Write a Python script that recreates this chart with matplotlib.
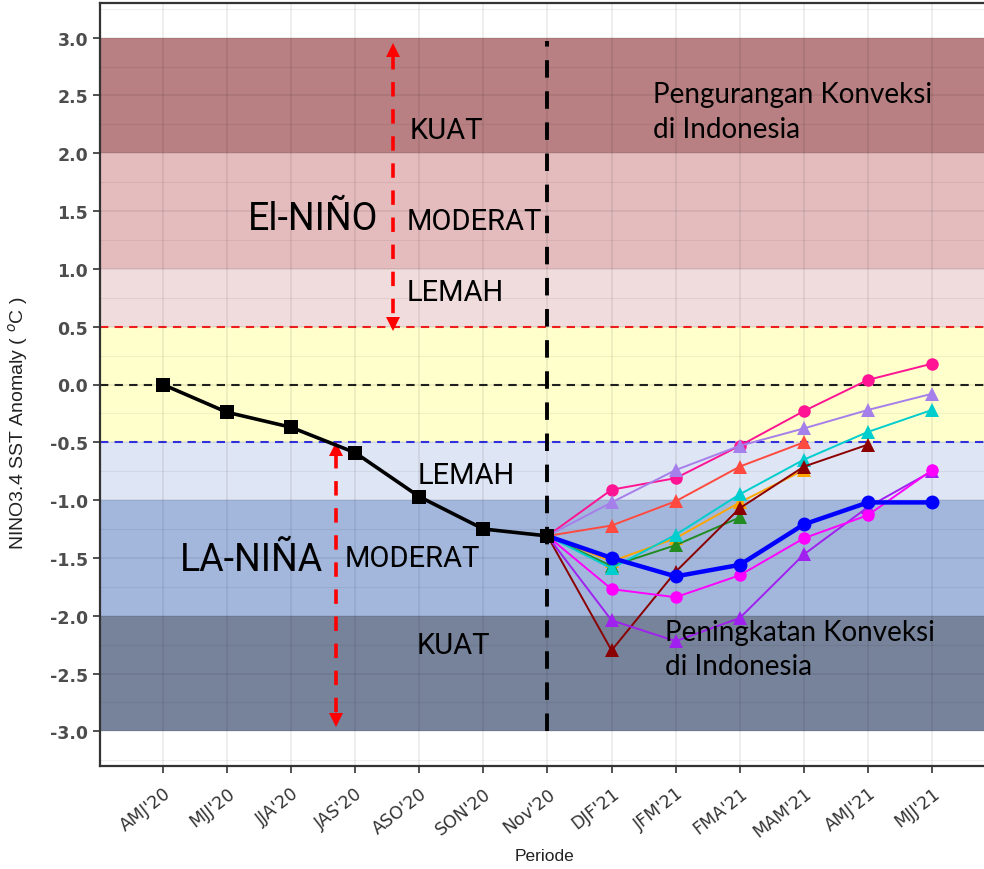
import numpy as np
import matplotlib
matplotlib.use("Agg")
import matplotlib.pyplot as plt
from matplotlib.ticker import MultipleLocator

# ---------------- data ----------------
periods = ["AMJ'20", "MJJ'20", "JJA'20", "JAS'20", "ASO'20", "SON'20", "Nov'20",
           "DJF'21", "JFM'21", "FMA'21", "MAM'21", "AMJ'21", "MJJ'21"]
observed = [0.0, -0.24, -0.37, -0.59, -0.97, -1.25, -1.31]

nan = np.nan
# forecasts for DJF'21 .. MJJ'21 (each starts from the Nov'20 observation)
fc_deeppink = [-0.91, -0.81, -0.53, -0.23, 0.04, 0.18]
fc_mpurple = [-1.02, -0.74, -0.53, -0.38, -0.22, -0.08]
fc_tomato = [-1.22, -1.01, -0.71, -0.50, nan, nan]
fc_cyan = [-1.59, -1.30, -0.95, -0.65, -0.41, -0.22]
fc_orange = [-1.53, -1.33, -1.02, -0.74, nan, nan]
fc_darkred = [-2.30, -1.62, -1.07, -0.71, -0.52, nan]
fc_green = [-1.57, -1.39, -1.15, nan, nan, nan]
fc_magenta = [-1.77, -1.84, -1.65, -1.33, -1.13, -0.74]
fc_violet = [-2.04, -2.22, -2.02, -1.47, -1.06, -0.75]
fc_blue = [-1.50, -1.66, -1.56, -1.21, -1.02, -1.02]

band_edges = [-3.0, -2.0, -1.0, -0.5, 0.5, 1.0, 2.0, 3.0]
band_colors = ["#77839B", "#A3B7DD", "#DEE5F4", "#FFFFCC", "#F0DCDC", "#E4BCBE", "#B88082"]

# ---------------- figure ----------------
fig = plt.figure(figsize=(9.84, 8.70), dpi=100)
ax = fig.add_axes([100/984, 1-767/870, (984-100)/984, (767-4)/870])
ax.set_xlim(-0.98, 12.81)
ax.set_ylim(-3.30, 3.30)

# bands
for lo, hi, c in zip(band_edges[:-1], band_edges[1:], band_colors):
    ax.axhspan(lo, hi, color=c, lw=0, zorder=0.5)

# grid (drawn over bands, translucent)
ax.yaxis.set_major_locator(MultipleLocator(0.5))
ax.yaxis.set_minor_locator(MultipleLocator(0.25))
ax.set_xticks(range(len(periods)))
ax.set_axisbelow(False)
ax.grid(True, which="major", color="black", alpha=0.08, lw=1.2, zorder=1)
ax.grid(True, which="minor", axis="y", color="black", alpha=0.06, lw=0.8, zorder=1)

# reference lines
ax.axhline(0.5, color="#FF2020", ls=(0, (4, 3)), lw=1.5, zorder=2)
ax.axhline(0.0, color="#222222", ls=(0, (4, 3)), lw=1.5, zorder=2)
ax.axhline(-0.5, color="#3333EE", ls=(0, (4, 3)), lw=1.5, zorder=2)
ax.plot([6, 6], [-3.0, 2.97], color="black", ls=(0, (4.5, 3.5)), lw=2.8, zorder=2)

# red dashed double arrows
def dbl_arrow(x, y_top, y_bot):
    ax.plot([x, x], [y_top - 0.1, y_bot + 0.1], color="red", ls=(0, (4, 3.5)), lw=2.6, zorder=3)
    ax.plot([x], [y_top - 0.055], marker="^", ms=10, color="red", mew=0, zorder=3)
    ax.plot([x], [y_bot + 0.055], marker="v", ms=10, color="red", mew=0, zorder=3)

dbl_arrow(3.59, 2.95, 0.47)
dbl_arrow(2.70, -0.50, -2.96)

# forecasts
xf = np.arange(6, 13)
start = observed[-1]
series = [
    (fc_deeppink, "#FF1493", "o", 1.4, 9),
    (fc_mpurple, "#A57FEA", "^", 1.4, 10),
    (fc_tomato, "#FF4A40", "^", 1.4, 10),
    (fc_orange, "#FFA500", "^", 1.4, 10),
    (fc_green, "#228B22", "^", 1.4, 10),
    (fc_cyan, "#00CDCD", "^", 1.4, 10),
    (fc_darkred, "#8B0000", "^", 1.4, 10),
    (fc_violet, "#A020F0", "^", 1.4, 10),
    (fc_magenta, "#FF00FF", "o", 1.4, 9),
]
for vals, col, mk, lw, ms in series:
    y = np.array([start] + list(vals), dtype=float)
    ax.plot(xf, y, color=col, lw=lw, marker=mk, ms=ms, mew=0, zorder=4,
            markevery=list(range(1, 7)))
yb = np.array([start] + fc_blue, dtype=float)
ax.plot(xf, yb, color="#0000FF", lw=3.2, marker="o", ms=10, mew=0, zorder=5,
        markevery=list(range(1, 7)))

# observed
ax.plot(range(len(observed)), observed, color="black", lw=2.6, marker="s", ms=10,
        mew=0, zorder=6)

# annotations
tf = "Roboto"
ax.text(3.85, 2.20, "KUAT", fontsize=21, family=tf, va="center", ha="left", zorder=7)
ax.text(3.80, 1.41, "MODERAT", fontsize=21, family=tf, va="center", ha="left", zorder=7)
ax.text(3.80, 0.80, "LEMAH", fontsize=21, family=tf, va="center", ha="left", zorder=7)
ax.text(1.33, 1.44, "El-NIÑO", fontsize=27, family=tf, va="center", ha="left", zorder=7)
ax.text(3.98, -0.78, "LEMAH", fontsize=21, family=tf, va="center", ha="left", zorder=7)
ax.text(0.27, -1.51, "LA-NIÑA", fontsize=27, family=tf, va="center", ha="left", zorder=7)
ax.text(2.84, -1.50, "MODERAT", fontsize=21, family=tf, va="center", ha="left", zorder=7)
ax.text(3.96, -2.25, "KUAT", fontsize=21, family=tf, va="center", ha="left", zorder=7)
ax.text(7.65, 2.36, "Pengurangan Konveksi\ndi Indonesia", fontsize=20, family="Lato",
        va="center", ha="left", linespacing=1.4, zorder=7)
ax.text(7.83, -2.29, "Peningkatan Konveksi\ndi Indonesia", fontsize=20, family="Lato",
        va="center", ha="left", linespacing=1.4, zorder=7)

# axes styling
ax.set_yticks(np.arange(-3.0, 3.01, 0.5))
ax.set_yticklabels([f"{v:.1f}" for v in np.arange(-3.0, 3.01, 0.5)],
                   fontsize=12.5, fontweight="bold", color="#4D4D4D", family="DejaVu Sans")
ax.set_xticklabels(periods, rotation=38, ha="right", rotation_mode="anchor",
                   fontsize=12.5, color="#333333", family="DejaVu Sans")
ax.tick_params(axis="x", which="major", pad=8)
ax.tick_params(axis="both", which="major", length=5, width=1.2, color="#333333")
ax.tick_params(axis="y", which="minor", length=0)
for s in ["left", "bottom", "top"]:
    ax.spines[s].set_color("#333333")
    ax.spines[s].set_linewidth(1.6)
ax.spines["right"].set_visible(False)

fig.text(545/984, 1-857/870, "Periode", ha="center", va="center", fontsize=12.5,
         family="Liberation Sans", color="#222222")
fig.text(18/984, 1-423/870, "NINO3.4 SST Anomaly ( $^{o}$C )", ha="center", va="center",
         rotation=90, fontsize=14, family="Liberation Sans", color="#222222")

fig.savefig("out.png", dpi=100)
